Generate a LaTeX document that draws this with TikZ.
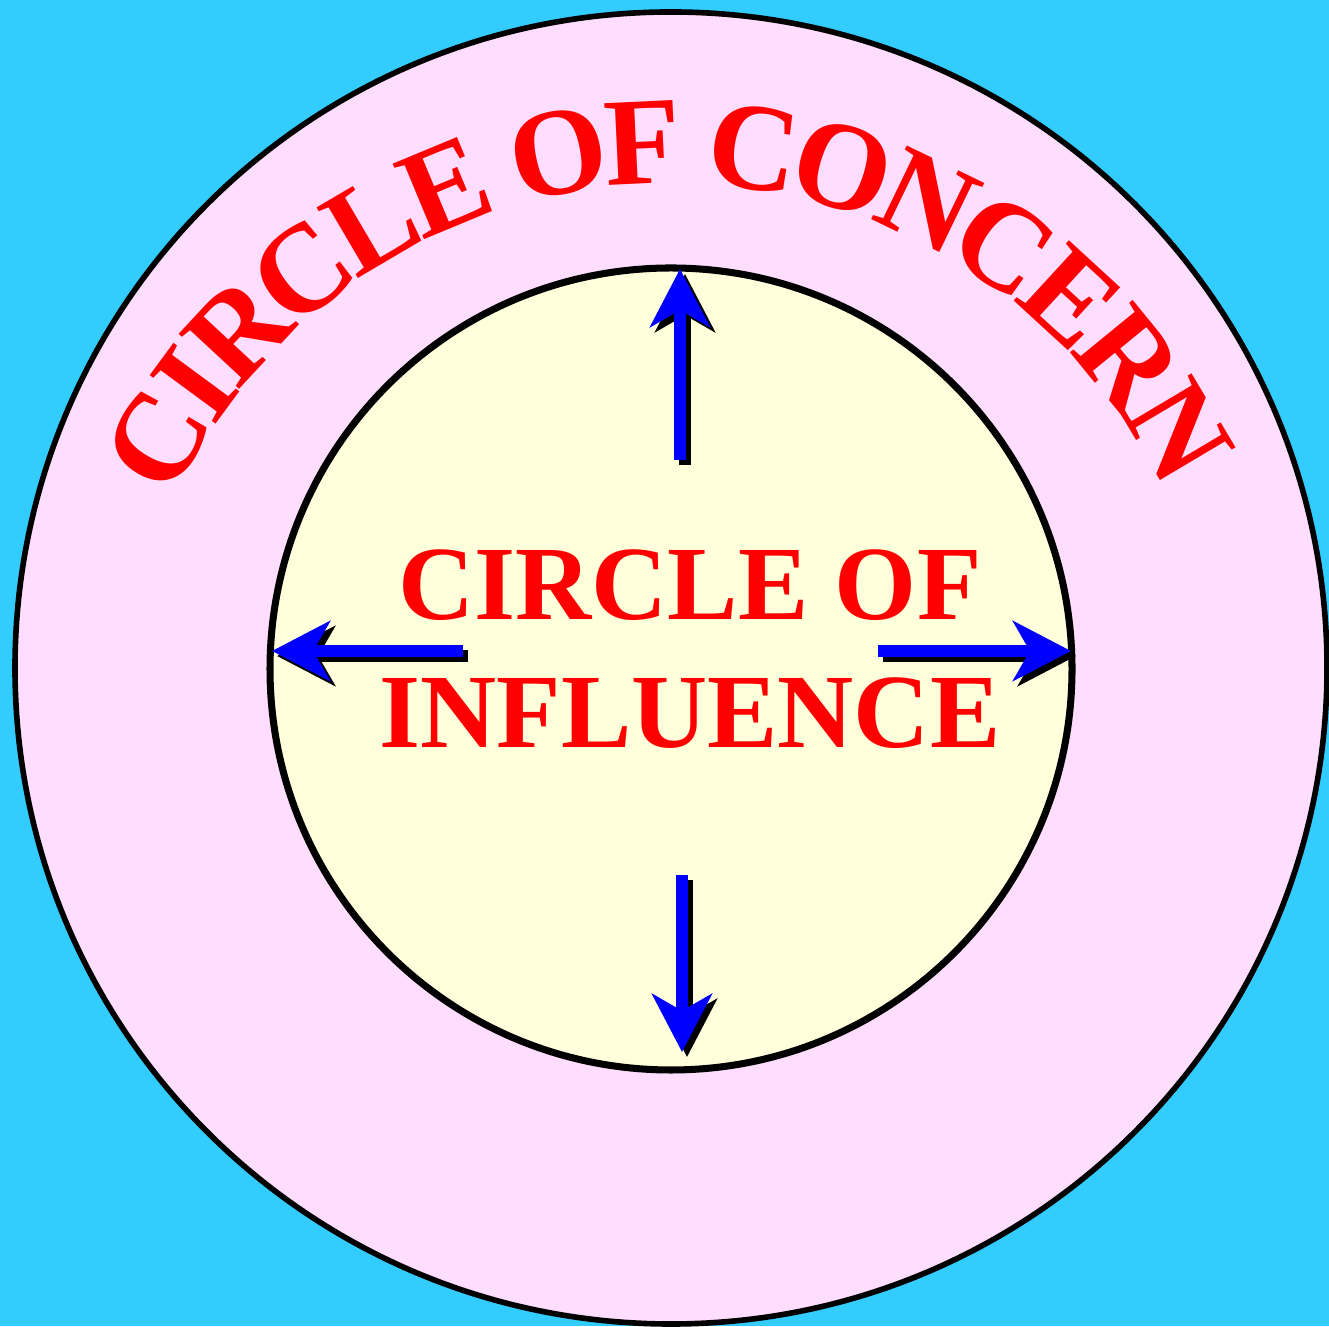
\documentclass[tikz,border=0pt]{standalone}
\usepackage{fontspec}
\setmainfont{Liberation Serif}
\usepackage{xcolor}
\usepackage{tikz}
\usetikzlibrary{arrows.meta, decorations.text, calc}

\definecolor{bgblue}{RGB}{51,204,255}
\definecolor{concernpink}{RGB}{255,221,255}
\definecolor{influenceyellow}{RGB}{255,255,219}

\begin{document}
\begin{tikzpicture}[
    ring/.style={circle, draw, inner sep=0pt},
    title/.style={text=red, font=\bfseries\fontsize{30}{30}\selectfont, inner sep=0pt},
    push/.style={draw=blue, line width=3.4pt, -{Stealth[length=16.5pt, width=17pt, inset=4.8pt]}},
    pushshade/.style={push, draw=black, transform canvas={shift={(0.05,-0.05)}}}
]

% Background
\fill[bgblue] (0,0) rectangle (13.29,13.26);
\useasboundingbox (0,0) rectangle (13.29,13.26);

% Circles
\node[ring, fill=concernpink, minimum size=13.12cm, line width=1.6pt] (Concern) at (6.71,6.58) {};
\node[ring, fill=influenceyellow, minimum size=8.02cm, line width=2pt] (Influence) at (6.71,6.57) {};

% Outer label along the ring
\coordinate (ArcCenter) at ($(Concern.center)+(0,-0.65)$);
\path[decorate, decoration={text effects along path, text={CIRCLE OF CONCERN}, text align=center,
    text effects/.cd, text along path,
    characters={text=red, font=\bfseries\fontsize{32.3}{32}\selectfont, scale=1.1},
    character widths={font=\bfseries\fontsize{32.3}{32}\selectfont}}]
    ($(ArcCenter)+(176:5.50)$) arc[start angle=176, end angle=5, radius=5.50cm];

% Inner label
\node[title, anchor=base] (InfTop) at (6.90,7.06) {CIRCLE OF};
\node[title, anchor=base] (InfBottom) at (6.90,5.78) {INFLUENCE};

% Arrow ends
\coordinate (UpFrom) at (6.80,8.66);
\coordinate (UpTo) at (6.80,10.57);
\coordinate (DownFrom) at (6.82,4.51);
\coordinate (DownTo) at (6.82,2.74);
\coordinate (RightFrom) at (8.78,6.75);
\coordinate (RightTo) at (10.71,6.75);
\coordinate (LeftFrom) at (4.63,6.75);
\coordinate (LeftTo) at (2.72,6.75);

% Shadows
\draw[pushshade] (UpFrom) -- (UpTo);
\draw[pushshade] (DownFrom) -- (DownTo);
\draw[pushshade] (RightFrom) -- (RightTo);
\draw[pushshade] (LeftFrom) -- (LeftTo);

% Arrows
\draw[push] (UpFrom) -- (UpTo);
\draw[push] (DownFrom) -- (DownTo);
\draw[push] (RightFrom) -- (RightTo);
\draw[push] (LeftFrom) -- (LeftTo);

\end{tikzpicture}
\end{document}
